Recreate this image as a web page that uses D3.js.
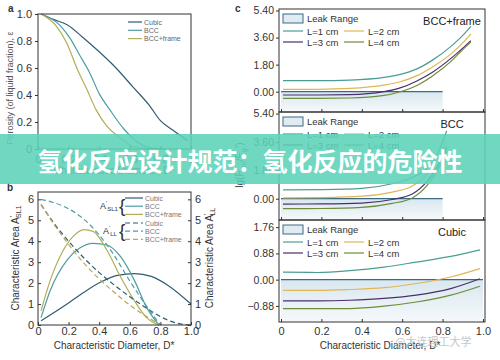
<!DOCTYPE html>
<html>
<head>
<meta charset="utf-8">
<script src="https://cdn.jsdelivr.net/npm/d3@7"></script>
<style>
  body { margin: 0; background: #fff; }
  svg { display: block; font-family: "Liberation Sans", Arial, sans-serif; }
</style>
</head>
<body>
<svg width="500" height="360"></svg>
<script>
// ---- panel a : porosity vs diameter
const porCubicX = [0.02, 0.1, 0.19, 0.29, 0.40, 0.51, 0.62, 0.73, 0.80, 0.88, 0.98];
const porCubicY = [1.0, 0.96, 0.92, 0.83, 0.72, 0.60, 0.46, 0.32, 0.21, 0.14, 0.06];
const porBccX = [0.02, 0.14, 0.21, 0.27, 0.34, 0.40, 0.47, 0.56, 0.64, 0.73, 0.82];
const porBccY = [1.0, 0.92, 0.82, 0.70, 0.56, 0.41, 0.29, 0.15, 0.06, 0.01, 0];
const porFrameX = [0.02, 0.12, 0.19, 0.25, 0.32, 0.38, 0.45, 0.53, 0.62, 0.73];
const porFrameY = [1.0, 0.91, 0.78, 0.61, 0.44, 0.29, 0.17, 0.09, 0.02, 0];

// ---- panel b : characteristic areas
const slCubicX = [0.02, 0.19, 0.30, 0.41, 0.52, 0.63, 0.74, 0.85, 1.0];
const slCubicY = [0.2, 1.0, 1.56, 2.05, 2.37, 2.45, 2.32, 1.89, 1.0];
const slBccX = [0.02, 0.08, 0.19, 0.27, 0.36, 0.45, 0.54, 0.63, 0.71, 0.79];
const slBccY = [0.35, 1.65, 3.1, 3.66, 3.9, 3.82, 3.26, 2.13, 0.84, 0];
const slFrameX = [0.02, 0.08, 0.16, 0.23, 0.30, 0.36, 0.45, 0.54, 0.63, 0.71, 0.79];
const slFrameY = [0.68, 2.13, 3.5, 4.23, 4.55, 4.47, 3.58, 2.29, 1.16, 0.35, 0];
const llCubicX = [0.02, 0.1, 0.2, 0.3, 0.4, 0.5, 0.6, 0.7, 0.8, 0.9, 1.0];
const llCubicY = [5.75, 4.9, 4.0, 3.2, 2.5, 1.9, 1.35, 0.85, 0.4, 0.1, 0];
const llBccX = [0.02, 0.1, 0.2, 0.3, 0.4, 0.5, 0.6, 0.7, 0.8];
const llBccY = [6.0, 5.85, 5.55, 5.05, 4.3, 3.3, 2.1, 1.0, 0];
const llFrameX = [0.02, 0.1, 0.2, 0.3, 0.4, 0.5, 0.6, 0.7, 0.8];
const llFrameY = [5.75, 4.85, 3.85, 2.95, 2.2, 1.55, 0.95, 0.45, 0];

// ---- panel c : lg(F) for L = 1..4 cm
const legLabels = ["L=1 cm", "L=2 cm", "L=3 cm", "L=4 cm"];
const frameX = [0.01, 0.18, 0.34, 0.51, 0.59, 0.67, 0.75, 0.84, 0.90, 0.94];
const frameL1 = [0.73, 0.73, 0.77, 0.95, 1.15, 1.5, 2.1, 3.0, 3.75, 4.35];
const frameL2 = [0.15, 0.16, 0.22, 0.44, 0.66, 1.05, 1.65, 2.5, 3.25, 3.85];
const frameL3 = [-0.22, -0.22, -0.2, 0.0, 0.25, 0.7, 1.3, 2.2, 2.9, 3.4];
const frameL4 = [-0.44, -0.44, -0.42, -0.25, 0.0, 0.4, 1.05, 2.0, 2.8, 3.3];
const bccX = [0.01, 0.2, 0.4, 0.55, 0.65, 0.72, 0.77, 0.82];
const bccL1 = [0.56, 0.58, 0.66, 0.95, 1.35, 1.9, 2.7, 4.3];
const bccL2 = [0.05, 0.07, 0.16, 0.42, 0.8, 1.5, 2.4, 3.6];
const bccL3 = [-0.34, -0.33, -0.28, -0.05, 0.3, 1.05, 1.95, 3.27];
const bccL4 = [-0.63, -0.62, -0.55, -0.3, 0.05, 0.8, 1.7, 3.04];
const cubicX = [0.01, 0.18, 0.34, 0.51, 0.67, 0.84, 0.985];
const cubicL1 = [0.25, 0.24, 0.30, 0.42, 0.59, 0.78, 1.0];
const cubicL2 = [-0.36, -0.36, -0.33, -0.27, -0.13, 0.09, 0.37];
const cubicL3 = [-0.71, -0.71, -0.69, -0.63, -0.52, -0.30, 0.03];
const cubicL4 = [-0.97, -0.97, -0.97, -0.89, -0.75, -0.52, -0.22];

const ticksUnit = [0, 0.2, 0.4, 0.6, 0.8, 1];
const ticksArea = [0, 1, 2, 3, 4, 5, 6];
const ticksBig = [0, 1.8, 3.6, 5.4];
const ticksSmall = [-0.88, 0, 0.88, 1.76];

const cCubic = "#2e5d72", cBcc = "#4d9ea3", cFrame = "#b3ad58";
const cL = ["#4b9d92", "#e0b655", "#4a2f6a", "#6e8c3a"];
const ink = "#333";

let svg = d3.select("svg");
svg.append("rect").attr("width", 500).attr("height", 360).attr("fill", "#fff");

const defs = svg.append("defs");
const grad = defs.append("linearGradient").attr("id", "leak")
  .attr("x1", 0).attr("y1", 0).attr("x2", 0).attr("y2", 1);
grad.append("stop").attr("offset", 0).attr("stop-color", "#d9e7ef");
grad.append("stop").attr("offset", 1).attr("stop-color", "#f6f9fb");

function lineGen(x, y) {
  return d3.line().x(d => x(d[0])).y(d => y(d[1])).curve(d3.curveMonotoneX);
}
function plot(g, x, y, xs, ys, color, dash) {
  g.append("path").datum(d3.zip(xs, ys))
    .attr("d", lineGen(x, y))
    .attr("fill", "none").attr("stroke", color).attr("stroke-width", 1.2)
    .attr("stroke-dasharray", dash || null);
}
function styleAxis(sel, size) {
  sel.select(".domain").remove();
  sel.attr("font-family", null).attr("font-size", size);
  sel.selectAll("line").attr("stroke", ink);
  sel.selectAll("text").attr("fill", ink);
}
function frame(x0, y0, x1, y1) {
  svg.append("rect").attr("x", x0).attr("y", y0).attr("width", x1 - x0).attr("height", y1 - y0)
    .attr("fill", "none").attr("stroke", ink).attr("stroke-width", 1);
}
const fmtUnit = d => d === 0 ? "0" : d3.format(".1f")(d);

// ================= a =================
const xA = d3.scaleLinear().domain([0, 1]).range([38, 191]);
const yA = d3.scaleLinear().domain([0, 1]).range([149, 14]);
const gA = svg.append("g");
plot(gA, xA, yA, porCubicX, porCubicY, cCubic);
plot(gA, xA, yA, porBccX, porBccY, cBcc);
plot(gA, xA, yA, porFrameX, porFrameY, cFrame);
frame(38, 14, 191, 149);
svg.append("g").attr("transform", "translate(38,0)")
  .call(d3.axisLeft(yA).tickValues(ticksUnit).tickSize(3).tickFormat(fmtUnit))
  .call(styleAxis, 11);
svg.append("g").attr("transform", "translate(0,149)")
  .call(d3.axisBottom(xA).tickValues(ticksUnit).tickSize(-3).tickPadding(6)
    .tickFormat(d => d === 0 || d === 1 ? String(d) : d3.format(".1f")(d)))
  .call(styleAxis, 11);
svg.append("text").attr("transform", "translate(13,88) rotate(-90)")
  .attr("text-anchor", "middle").attr("font-size", 9).attr("fill", "#555")
  .text("Porosity (of liquid fraction), ε");
svg.append("text").attr("x", 114).attr("y", 174).attr("text-anchor", "middle")
  .attr("font-size", 10).attr("fill", ink).text("Characteristic Diameter, D*");
const legA = [["Cubic", cCubic], ["BCC", cBcc], ["BCC+frame", cFrame]];
legA.forEach(([t, c], i) => {
  const y = 22 + i * 8.3;
  svg.append("line").attr("x1", 128).attr("x2", 142).attr("y1", y).attr("y2", y)
    .attr("stroke", c).attr("stroke-width", 1.2);
  svg.append("text").attr("x", 144).attr("y", y + 2.5).attr("font-size", 7).attr("fill", "#666").text(t);
});

// ================= b =================
const xB = d3.scaleLinear().domain([0, 1]).range([38, 191]);
const yB = d3.scaleLinear().domain([0, 6.35]).range([325, 192]);
const gB = svg.append("g");
plot(gB, xB, yB, slCubicX, slCubicY, cCubic);
plot(gB, xB, yB, slBccX, slBccY, cBcc);
plot(gB, xB, yB, slFrameX, slFrameY, cFrame);
plot(gB, xB, yB, llCubicX, llCubicY, cCubic, "5,3");
plot(gB, xB, yB, llBccX, llBccY, cBcc, "5,3");
plot(gB, xB, yB, llFrameX, llFrameY, cFrame, "5,3");
frame(38, 192, 191, 325);
svg.append("g").attr("transform", "translate(38,0)")
  .call(d3.axisLeft(yB).tickValues(ticksArea).tickSize(-3).tickPadding(4).tickFormat(d3.format("d")))
  .call(styleAxis, 11);
svg.append("g").attr("transform", "translate(191,0)")
  .call(d3.axisRight(yB).tickValues(ticksArea).tickSize(-3).tickPadding(4).tickFormat(d3.format("d")))
  .call(styleAxis, 11);
svg.append("g").attr("transform", "translate(0,325)")
  .call(d3.axisBottom(xB).tickValues(ticksUnit).tickSize(-3).tickPadding(2)
    .tickFormat(d => d === 0 ? "0" : d3.format(".1f")(d)))
  .call(styleAxis, 11);
svg.append("text").attr("x", 114).attr("y", 349).attr("text-anchor", "middle")
  .attr("font-size", 10).attr("fill", ink).text("Characteristic Diameter, D*");

function areaTitle(x, sub) {
  const t = svg.append("text").attr("transform", `translate(${x},258) rotate(-90)`)
    .attr("text-anchor", "middle").attr("font-size", 10).attr("fill", ink);
  t.append("tspan").text("Characteristic Area A");
  t.append("tspan").attr("dy", -4).attr("font-size", 7).text("'");
  t.append("tspan").attr("dy", 6).attr("dx", -2).attr("font-size", 7).text(sub);
}
areaTitle(19, "SL1");
areaTitle(213, "LL");

const legB = [["Cubic", cCubic], ["BCC", cBcc], ["BCC+frame", cFrame]];
[[198, ""], [223, "5,3"]].forEach(([y0, dash], k) => {
  legB.forEach(([t, c], i) => {
    const y = y0 + i * 8.2;
    svg.append("line").attr("x1", 125).attr("x2", 143).attr("y1", y).attr("y2", y)
      .attr("stroke", c).attr("stroke-width", 1.2).attr("stroke-dasharray", dash || null);
    svg.append("text").attr("x", 145).attr("y", y + 2.5).attr("font-size", 7).attr("fill", "#777").text(t);
  });
  const lab = svg.append("text").attr("x", k === 0 ? 100 : 103).attr("y", y0 + 11)
    .attr("font-size", 9).attr("fill", ink);
  lab.append("tspan").text("A");
  lab.append("tspan").attr("dy", -4).attr("font-size", 6).text("'");
  lab.append("tspan").attr("dy", 6).attr("font-size", 6).text(k === 0 ? "SL1" : "LL");
  svg.append("text").attr("x", 119).attr("y", y0 + 14).attr("font-size", 19)
    .attr("fill", ink).text("{");
});

// ================= c =================
const xC = d3.scaleLinear().domain([0, 1]).range([281, 483]);
const subPanels = [
  { name: "BCC+frame", xs: frameX, ys: [frameL1, frameL2, frameL3, frameL4],
    domain: [-1.35, 5.5], range: [112, 9], ticks: ticksBig, leakEnd: 0.8 },
  { name: "BCC", xs: bccX, ys: [bccL1, bccL2, bccL3, bccL4],
    domain: [-1.35, 5.5], range: [220, 112], ticks: ticksBig, leakEnd: 0.8 },
  { name: "Cubic", xs: cubicX, ys: [cubicL1, cubicL2, cubicL3, cubicL4],
    domain: [-1.42, 2.0], range: [322, 220], ticks: ticksSmall, leakEnd: 1.0 }
];
const x0c = 279, x1c = 485;
subPanels.forEach((p, k) => {
  const y = d3.scaleLinear().domain(p.domain).range(p.range);
  const top = p.range[1], bot = p.range[0];
  const g = svg.append("g");
  // leak range shading + zero line
  g.append("rect").attr("x", xC(0)).attr("y", y(0))
    .attr("width", xC(p.leakEnd) - xC(0)).attr("height", bot - y(0)).attr("fill", "url(#leak)");
  g.append("line").attr("x1", xC(0)).attr("x2", xC(p.leakEnd)).attr("y1", y(0)).attr("y2", y(0))
    .attr("stroke", "#3b6b86").attr("stroke-width", 1.2);
  p.ys.forEach((ys, i) => plot(g, xC, y, p.xs, ys, cL[i]));
  frame(x0c, top, x1c, bot);
  svg.append("g").attr("transform", `translate(${x0c},0)`)
    .call(d3.axisLeft(y).tickValues(p.ticks).tickSize(3).tickPadding(2).tickFormat(d3.format(".2f")))
    .call(styleAxis, 10.5);
  svg.append("g").attr("transform", `translate(0,${bot})`)
    .call(d3.axisBottom(xC).tickValues(ticksUnit).tickSize(-3).tickPadding(5)
      .tickFormat(k === 2 ? (d => d === 0 ? "0" : d3.format(".1f")(d)) : ""))
    .call(styleAxis, 11);
  svg.append("text").attr("x", 452).attr("y", top + 16).attr("text-anchor", "middle")
    .attr("font-size", 11).attr("fill", "#222").text(p.name);
  // legend
  svg.append("rect").attr("x", 283).attr("y", top + 5).attr("width", 20).attr("height", 9)
    .attr("fill", "#e0ebf2").attr("stroke", "#3b6b86").attr("stroke-width", 1);
  svg.append("text").attr("x", 307).attr("y", top + 13).attr("font-size", 9.5).attr("fill", ink).text("Leak Range");
  legLabels.forEach((t, i) => {
    const lx = i % 2 === 0 ? 283 : 344;
    const ly = top + 22 + Math.floor(i / 2) * 11;
    svg.append("line").attr("x1", lx).attr("x2", lx + 20).attr("y1", ly).attr("y2", ly)
      .attr("stroke", cL[i]).attr("stroke-width", 1.2);
    svg.append("text").attr("x", lx + 24).attr("y", ly + 3.5).attr("font-size", 9.5).attr("fill", ink).text(t);
  });
});
const yt = svg.append("text").attr("transform", "translate(243,165) rotate(-90)")
  .attr("text-anchor", "middle").attr("font-size", 10).attr("fill", ink);
yt.append("tspan").text("lg(F");
yt.append("tspan").attr("dy", 3).attr("font-size", 7).text("cm");
yt.append("tspan").attr("dy", -3).text("/F");
yt.append("tspan").attr("dy", 3).attr("font-size", 7).text("g");
yt.append("tspan").attr("dy", -6).attr("font-size", 7).text("*");
yt.append("tspan").attr("dy", 3).text(")");
svg.append("text").attr("x", 380).attr("y", 349).attr("text-anchor", "middle")
  .attr("font-size", 10).attr("fill", ink).text("Characteristic Diameter, D*");

// panel letters
[["a", 8, 12], ["b", 7, 191], ["c", 235, 12]].forEach(([t, x, y]) => {
  svg.append("text").attr("x", x).attr("y", y).attr("font-size", 10).attr("font-weight", "bold")
    .attr("fill", ink).text(t);
});

// watermark
svg.append("text").attr("x", 395).attr("y", 346).attr("font-size", 11)
  .attr("font-family", "Noto Sans CJK SC").attr("fill", "#c8c8c8").text("@大连理工大学");

// title banner over the figure
svg.append("rect").attr("x", 0).attr("y", 134).attr("width", 500).attr("height", 50)
  .attr("fill", "rgb(92,210,184)").attr("opacity", 0.88);
svg.append("text").attr("x", 250).attr("y", 171).attr("text-anchor", "middle")
  .attr("font-family", "Noto Sans CJK SC").attr("font-weight", "bold").attr("font-size", 25)
  .attr("fill", "#fff").text("氢化反应设计规范：氢化反应的危险性");
</script>
</body>
</html>
